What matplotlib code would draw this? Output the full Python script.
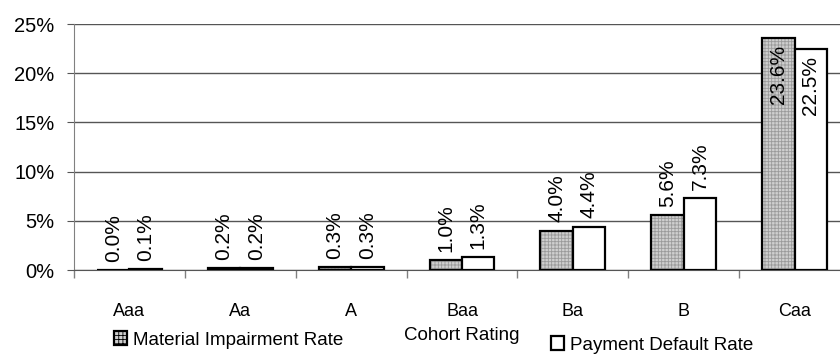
import numpy as np
import matplotlib
matplotlib.use("Agg")
import matplotlib.pyplot as plt
from matplotlib.patches import Patch

plt.rcParams['font.family'] = ['Liberation Sans', 'DejaVu Sans']
plt.rcParams['hatch.linewidth'] = 0.6

ratings = ["Aaa", "Aa", "A", "Baa", "Ba", "B", "Caa"]
impairment = [0.0, 0.2, 0.3, 1.0, 4.0, 5.6, 23.6]
default = [0.1, 0.2, 0.3, 1.3, 4.4, 7.3, 22.5]
yticks = [0, 5, 10, 15, 20, 25]

fig = plt.figure(figsize=(8.4, 3.58), dpi=100)
ax = fig.add_axes([74 / 840, 1 - 270 / 358, 776 / 840, 246 / 358])

x = np.arange(len(ratings))
w = 0.293

# hatched fill first, then black outline on top
ax.bar(x - w / 2, impairment, w, color='#cfcfcf', hatch='+++++', edgecolor='#9a9a9a', linewidth=0, zorder=3)
ax.bar(x - w / 2, impairment, w, fill=False, edgecolor='black', linewidth=1.6, zorder=4)
ax.bar(x + w / 2, default, w, color='white', edgecolor='black', linewidth=1.6, zorder=4)

for i in range(len(ratings)):
    for xv, v in [(x[i] - w / 2, impairment[i]), (x[i] + w / 2, default[i])]:
        if v > 20:
            ax.annotate(f"{v:.1f}%", (xv, v), xytext=(0, -5), textcoords='offset points',
                        rotation=90, ha='center', va='top', fontsize=15, zorder=5)
        else:
            ax.annotate(f"{v:.1f}%", (xv, v), xytext=(0, 6), textcoords='offset points',
                        rotation=90, ha='center', va='bottom', fontsize=15, zorder=5)

ax.set_xlim(-0.5, 6.5)
ax.set_ylim(0, 25)
ax.set_yticks(yticks)
ax.set_yticklabels([f"{t}%" for t in yticks], fontsize=14.5)
ax.grid(axis='y', color='#555555', linewidth=1, zorder=0)
ax.tick_params(axis='y', length=5, color='#555555', pad=9)

ax.set_xticks(x)
ax.set_xticklabels(ratings, fontsize=13)
ax.set_xticks(np.arange(-0.5, 6.5, 1), minor=True)
ax.tick_params(axis='x', which='major', length=0, pad=24)
ax.tick_params(axis='x', which='minor', length=6, color='#808080', width=1)
ax.set_xlabel("Cohort Rating", fontsize=13.5, labelpad=5)

for s in ['top', 'right']:
    ax.spines[s].set_visible(False)
ax.spines['left'].set_color('#808080')
ax.spines['bottom'].set_color('#555555')

h1 = Patch(facecolor='#cfcfcf', hatch='++++', edgecolor='black', linewidth=1.6)
h2 = Patch(facecolor='white', edgecolor='black', linewidth=1.6)
fig.legend([h1], ["Material Impairment Rate"], loc='center left', bbox_to_anchor=(114 / 840, 1 - 340 / 358),
           frameon=False, fontsize=13.5, handlelength=0.7, handleheight=0.7, handletextpad=0.3, borderpad=0, borderaxespad=0)
fig.legend([h2], ["Payment Default Rate"], loc='center left', bbox_to_anchor=(551 / 840, 1 - 345 / 358),
           frameon=False, fontsize=13.5, handlelength=0.7, handleheight=0.7, handletextpad=0.3, borderpad=0, borderaxespad=0)

fig.savefig("out.png", dpi=100)
